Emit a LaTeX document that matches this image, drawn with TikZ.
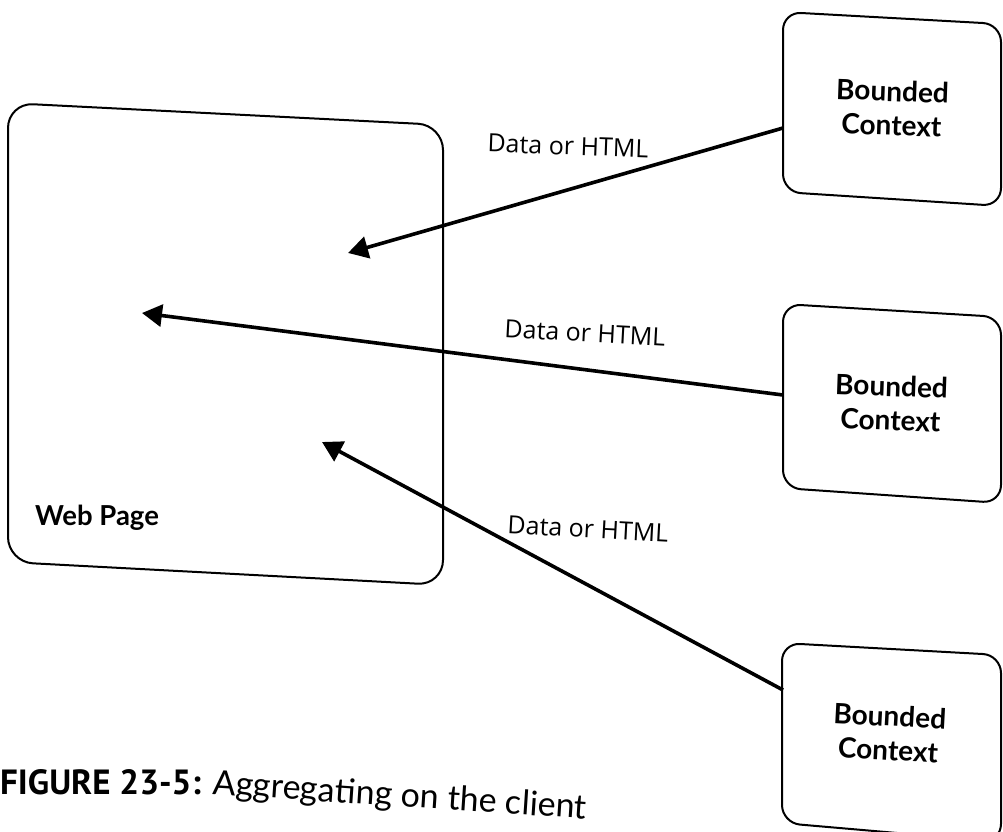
\documentclass[tikz,border=0pt]{standalone}
\usepackage{fontspec}
\setmainfont{Lato}
\newfontfamily\labelfont{Open Sans}
\newfontfamily\figfont{PT Sans}
\usetikzlibrary{arrows.meta}
\begin{document}
\begin{tikzpicture}[x=1pt,y=-1pt,
  frame/.style={line width=2pt, line join=round},
  flow/.style={line width=3.6pt, -{Triangle[length=20pt,width=22pt]}},
  bctext/.style={font=\fontsize{28}{34}\selectfont\bfseries, align=center, inner sep=0pt},
  lbl/.style={font=\labelfont\fontsize{25}{30}\selectfont, inner sep=0pt}]
\useasboundingbox (0,0) rectangle (1003,831);
\fill[white] (0,0) rectangle (1003,831);
\clip (0,0) rectangle (1003,831);

% Web page panel
\draw[frame, rounded corners=25pt] (8,103) -- (443,125) -- (443,585) -- (8,562) -- cycle;
\node[font=\fontsize{27.5}{30}\selectfont\bfseries, anchor=base west, inner sep=0pt] (web) at (35,525) {Web Page};

% Bounded contexts
\draw[frame, rounded corners=18pt] (783,12) -- (1001,24) -- (1001,206) -- (783,192) -- cycle;
\node[bctext, rotate=-2] (bc1) at (892,108) {Bounded\\Context};

\draw[frame, rounded corners=18pt] (783,304) -- (1001,317) -- (1001,503) -- (783,488) -- cycle;
\node[bctext, rotate=-2] (bc2) at (891,403) {Bounded\\Context};

\draw[frame, rounded corners=18pt] (782,643) -- (1001,655) -- (1001,842) -- (782,823) -- cycle;
\node[bctext, rotate=-3] (bc3) at (889,733) {Bounded\\Context};

% Connector end points
\coordinate (bc1in) at (783,128);
\coordinate (bc2in) at (783,395);
\coordinate (bc3in) at (783,690);
\coordinate (wp1) at (348,253);
\coordinate (wp2) at (142,313);
\coordinate (wp3) at (322,442);

\draw[flow] (bc1in) -- (wp1);
\draw[flow] (bc2in) -- (wp2);
\draw[flow] (bc3in) -- (wp3);

% Connector labels
\node[lbl, rotate=-2] (l1) at (568,146) {Data or HTML};
\node[lbl, rotate=-3] (l2) at (585,333) {Data or HTML};
\node[lbl, rotate=-3] (l3) at (588,529) {Data or HTML};

% Caption
\node[font=\figfont\bfseries\fontsize{35}{40}\selectfont, anchor=base west, inner sep=0pt] (fig) at (0,794) {FIGURE 23-5:};
\node[font=\fontsize{34}{40}\selectfont, anchor=base west, inner sep=0pt, rotate=-3.8] (cap) at (212,794) {Aggregating on the client};
\end{tikzpicture}
\end{document}
